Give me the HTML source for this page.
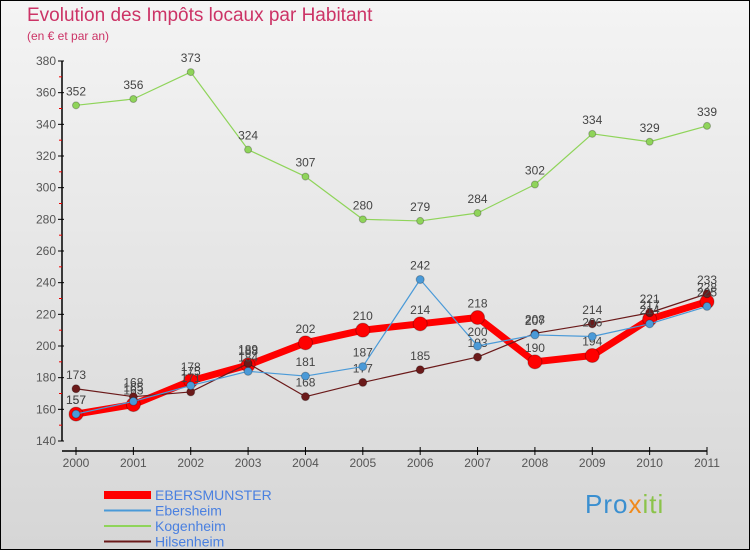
<!DOCTYPE html>
<html><head><meta charset="utf-8"><style>
body{margin:0;width:750px;height:550px;overflow:hidden;font-family:"Liberation Sans",sans-serif}
#wrap{position:relative;width:748px;height:548px;border:1px solid #000;background:linear-gradient(#f4f4f4,#d6d6d6)}
.t{position:absolute;color:#cc3366;font-weight:300}
</style></head><body>
<div id="wrap">
<div class="t" style="left:26px;top:4px;font-size:19px">Evolution des Impôts locaux par Habitant</div>
<div class="t" style="left:26px;top:28px;font-size:12px">(en € et par an)</div>
<svg id="svg" width="748" height="548" style="position:absolute;left:0;top:0"></svg>
<div style="position:absolute;left:584px;top:488px;font-size:26px;font-weight:normal;letter-spacing:1px"><span style="color:#3a8fd0">Pro</span><span style="color:#f08a1c">x</span><span style="color:#8bc34a">iti</span></div>
</div>
<script>
const years=["2000","2001","2002","2003","2004","2005","2006","2007","2008","2009","2010","2011"];
const yTicks=[140,160,180,200,220,240,260,280,300,320,340,360,380];
const ebersmunster=[157,163,178,188,202,210,214,218,190,194,217,228];
const ebersheim=[157,165,175,184,181,187,242,200,207,206,214,225];
const kogenheim=[352,356,373,324,307,280,279,284,302,334,329,339];
const hilsenheim=[173,168,171,189,168,177,185,193,208,214,221,233];
const svg=document.getElementById('svg');const NS='http://www.w3.org/2000/svg';
function X(i){return 75+i*(706-75)/11}
function Y(v){return 440-(v-140)*(380/240)}
function mk(t,a,p){const e=document.createElementNS(NS,t);for(const k in a)e.setAttribute(k,a[k]);(p||svg).appendChild(e);return e}
const ax=mk('line',{x1:61,y1:60,x2:61,y2:440,stroke:'#000','stroke-width':1.5});


const bx=mk('line',{x1:61,y1:450,x2:706,y2:450,stroke:'#000','stroke-width':1.5});


yTicks.forEach((v,i)=>{mk('line',{x1:57,y1:Y(v),x2:63,y2:Y(v),stroke:'#000'});
if(i<yTicks.length-1)mk('line',{x1:58,y1:Y(v+10),x2:61,y2:Y(v+10),stroke:'#e00'});
const t=mk('text',{x:55,y:Y(v)+4,'text-anchor':'end','font-size':12,fill:'#555'});t.textContent=v;

});
years.forEach((y,i)=>{mk('line',{x1:X(i),y1:446,x2:X(i),y2:454,stroke:'#000'});
const t=mk('text',{x:X(i),y:466,'text-anchor':'middle','font-size':12,fill:'#555'});t.textContent=y;

});
function series(d,color,w,r,name){const g=mk('g',{});


mk('polyline',{points:d.map((v,i)=>X(i)+','+Y(v)).join(' '),fill:'none',stroke:color,'stroke-width':w,'stroke-linejoin':'round'},g);
d.forEach((v,i)=>{mk('circle',{cx:X(i),cy:Y(v),r:r,fill:color,stroke:'rgba(0,0,0,0.25)'},g);
const t=mk('text',{x:X(i),y:Y(v)-10,'text-anchor':'middle','font-size':12,fill:'#444'},g);t.textContent=v;});}
series(kogenheim,'#8fd45a',1.2,3.5,'series-kogenheim');
series(ebersmunster,'#f00',7,7,'series-ebersmunster');
series(hilsenheim,'#6b1a1a',1.2,4,'series-hilsenheim');
series(ebersheim,'#4a9ad8',1.2,4,'series-ebersheim');
const leg=[['EBERSMUNSTER','#f00',8],['Ebersheim','#4a9ad8',2],['Kogenheim','#8fd45a',2],['Hilsenheim','#6b1a1a',2]];
leg.forEach((l,i)=>{const y=494+i*15.5;const g=mk('g',{});


mk('line',{x1:103,y1:y,x2:150,y2:y,stroke:l[1],'stroke-width':l[2]},g);
const t=mk('text',{x:154,y:y+5,'font-size':14,fill:'#4a80e0'},g);t.textContent=l[0];});
</script>
</body></html>
